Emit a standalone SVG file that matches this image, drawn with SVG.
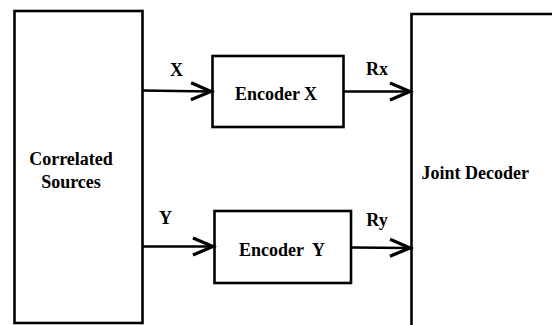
<svg xmlns="http://www.w3.org/2000/svg" width="552" height="325" viewBox="0 0 552 325">
<defs>
<style>
.box{fill:#fff;stroke:#000;stroke-width:2.6}
.ln{fill:none;stroke:#000;stroke-width:2.6}
.t{font-family:'Liberation Serif','Times New Roman',serif;font-weight:700;font-size:18px;fill:#000}
</style>
<marker id="arr" markerUnits="userSpaceOnUse" markerWidth="30" markerHeight="26" viewBox="-26 -13 30 26" refX="0" refY="0" orient="auto">
<path d="M-20,-8.5 L0,0 L-20,8.5" fill="none" stroke="#000" stroke-width="3.2" stroke-linejoin="miter" stroke-miterlimit="10"/>
</marker>
</defs>
<rect width="552" height="325" fill="#fff"/>
<g id="sources">
<rect class="box" x="14.5" y="11" width="128" height="312"/>
<text class="t" x="71" y="165" text-anchor="middle">Correlated</text>
<text class="t" x="71" y="188" text-anchor="middle">Sources</text>
</g>
<g id="encoderX">
<rect class="box" x="212.5" y="56" width="131" height="71"/>
<text class="t" x="276" y="100" text-anchor="middle">Encoder X</text>
</g>
<g id="encoderY">
<rect class="box" x="214.5" y="211" width="136.5" height="72"/>
<text class="t" x="282" y="256" text-anchor="middle" xml:space="preserve">Encoder  Y</text>
</g>
<g id="decoder">
<path class="ln" d="M411.5,330 V14 H560"/>
<text class="t" x="421.5" y="179">Joint Decoder</text>
</g>
<g id="connectors">
<line class="ln" x1="142.5" y1="90.5" x2="211" y2="91.5" marker-end="url(#arr)"/>
<line class="ln" x1="343.5" y1="91.5" x2="410" y2="91.5" marker-end="url(#arr)"/>
<line class="ln" x1="142.5" y1="246.5" x2="213" y2="246.5" marker-end="url(#arr)"/>
<line class="ln" x1="351" y1="247.5" x2="410" y2="248" marker-end="url(#arr)"/>
<text class="t" x="176.5" y="76" text-anchor="middle">X</text>
<text class="t" x="377" y="75" text-anchor="middle">Rx</text>
<text class="t" x="165.5" y="224" text-anchor="middle">Y</text>
<text class="t" x="377" y="226" text-anchor="middle">Ry</text>
</g>
</svg>
